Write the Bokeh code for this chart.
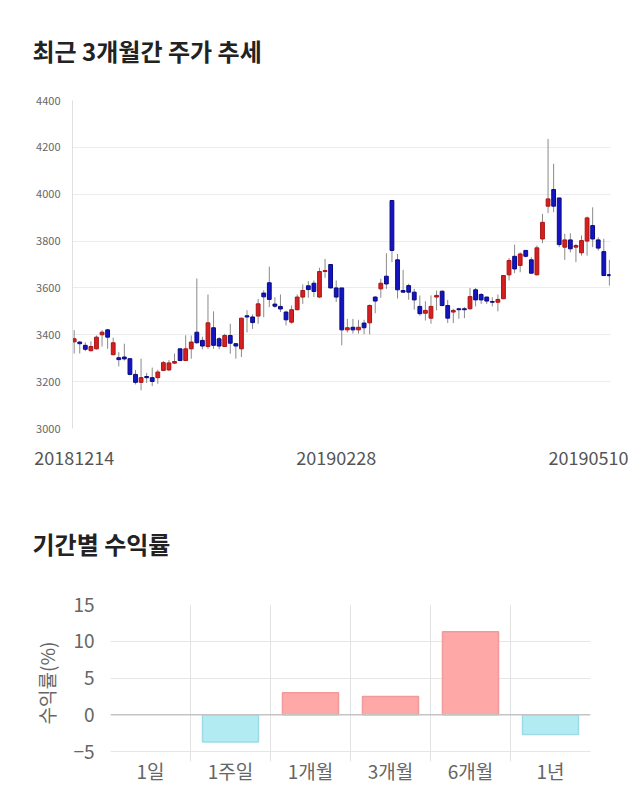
from bokeh.plotting import figure
from bokeh.models import Range1d, FixedTicker, Span, ColumnDataSource
from bokeh.embed import file_html
from bokeh.resources import INLINE

# ---- data: daily candles (3 months) ----
opens = [3370, 3369, 3355, 3332, 3340, 3400, 3421, 3315, 3302, 3305,
         3298, 3231, 3197, 3222, 3217, 3217, 3248, 3250, 3279, 3340,
         3290, 3340, 3411, 3376, 3350, 3430, 3383, 3350, 3397, 3362,
         3340, 3481, 3476, 3480, 3578, 3622, 3531, 3521, 3497, 3454,
         3507, 3561, 3609, 3620, 3561, 3670, 3700, 3600, 3600, 3421,
         3432, 3421, 3450, 3451, 3561, 3596, 3650, 3973, 3720, 3589,
         3610, 3582, 3521, 3492, 3471, 3561, 3586, 3525, 3497, 3511,
         3511, 3511, 3592, 3572, 3561, 3542, 3539, 3554, 3656, 3735,
         3696, 3760, 3720, 3656, 3809, 3949, 4020, 3984, 3774, 3805,
         3774, 3750, 3800, 3866, 3805, 3755, 3657]
highs = [3420, 3373, 3368, 3372, 3397, 3420, 3425, 3388, 3326, 3362,
         3300, 3250, 3298, 3237, 3260, 3251, 3288, 3292, 3320, 3342,
         3398, 3397, 3640, 3392, 3572, 3500, 3390, 3404, 3447, 3365,
         3472, 3505, 3487, 3553, 3590, 3691, 3560, 3572, 3503, 3525,
         3572, 3615, 3629, 3632, 3686, 3724, 3702, 3632, 3600, 3468,
         3468, 3464, 3464, 3530, 3565, 3639, 3748, 3975, 3745, 3677,
         3618, 3596, 3568, 3543, 3568, 3589, 3589, 3549, 3511, 3515,
         3518, 3600, 3600, 3578, 3563, 3560, 3572, 3655, 3728, 3785,
         3752, 3762, 3731, 3781, 3916, 4236, 4130, 3985, 3831, 3833,
         3788, 3824, 3905, 3944, 3816, 3810, 3720]
lows = [3320, 3320, 3330, 3329, 3337, 3350, 3340, 3312, 3265, 3290,
        3227, 3188, 3163, 3194, 3181, 3191, 3245, 3245, 3275, 3289,
        3288, 3298, 3362, 3338, 3340, 3340, 3338, 3347, 3319, 3298,
        3305, 3410, 3425, 3447, 3475, 3518, 3515, 3497, 3440, 3447,
        3504, 3532, 3558, 3561, 3558, 3643, 3598, 3540, 3355, 3410,
        3405, 3405, 3402, 3402, 3492, 3558, 3596, 3710, 3555, 3580,
        3550, 3507, 3482, 3461, 3447, 3504, 3521, 3450, 3450, 3468,
        3471, 3507, 3521, 3532, 3532, 3521, 3500, 3552, 3632, 3663,
        3667, 3730, 3660, 3653, 3791, 3919, 3923, 3774, 3720, 3752,
        3710, 3738, 3738, 3774, 3760, 3650, 3610]
closes = [3383, 3362, 3338, 3350, 3390, 3411, 3390, 3366, 3294, 3297,
          3231, 3197, 3217, 3217, 3201, 3241, 3281, 3280, 3286, 3290,
          3340, 3369, 3366, 3352, 3451, 3355, 3352, 3397, 3364, 3352,
          3471, 3476, 3452, 3532, 3562, 3551, 3522, 3510, 3464, 3507,
          3561, 3589, 3593, 3585, 3670, 3674, 3600, 3561, 3421, 3430,
          3421, 3432, 3430, 3525, 3544, 3620, 3617, 3760, 3592, 3582,
          3582, 3549, 3490, 3504, 3521, 3568, 3525, 3471, 3504, 3507,
          3507, 3563, 3549, 3549, 3544, 3539, 3551, 3653, 3717, 3681,
          3745, 3735, 3663, 3771, 3880, 3980, 3949, 3785, 3805, 3767,
          3781, 3802, 3899, 3809, 3770, 3653, 3652]
date_tick_labels = ["20181214", "20190228", "20190510"]
date_tick_index = [0, 47, len(opens) - 1]
price_ticks = [3000, 3200, 3400, 3600, 3800, 4000, 4200, 4400]

# ---- data: period returns ----
periods = ["1일", "1주일", "1개월", "3개월", "6개월", "1년"]
returns = [0.0, -3.7, 3.0, 2.5, 11.3, -2.7]
return_ticks = [-5, 0, 5, 10, 15]

FONT = "Noto Sans CJK KR"
UP_FILL, UP_LINE = "#d61f1f", "#a81515"
DN_FILL, DN_LINE = "#1414c4", "#0a0a80"

# ---------------- top: candlestick ----------------
n = len(opens)
idx = list(range(n))
src = ColumnDataSource(dict(
    x=idx, high=highs, low=lows,
    top=[max(o, c) for o, c in zip(opens, closes)],
    bottom=[min(o, c) for o, c in zip(opens, closes)],
    fill=[UP_FILL if c >= o else DN_FILL for o, c in zip(opens, closes)],
    line=[UP_LINE if c >= o else DN_LINE for o, c in zip(opens, closes)],
))

p1 = figure(width=640, height=482, output_backend="svg", toolbar_location=None,
            x_range=Range1d(-0.3, n - 0.8), y_range=Range1d(price_ticks[0], price_ticks[-1]),
            min_border_left=72, min_border_right=30, min_border_top=100, min_border_bottom=54,
            title="최근 3개월간 주가 추세")
p1.title.text_font = FONT
p1.title.text_font_size = "24px"
p1.title.text_font_style = "bold"
p1.title.text_color = "#222222"
p1.title.align = "left"
p1.title.vertical_align = "middle"
p1.title.offset = -40
p1.title.standoff = 63
p1.outline_line_color = None
p1.background_fill_color = "white"

p1.segment(x0="x", x1="x", y0="low", y1="high", source=src, line_color="#8a8a8a", line_width=1)
p1.vbar(x="x", top="top", bottom="bottom", width=0.68, source=src,
        fill_color="fill", line_color="line", line_width=1)

p1.yaxis.ticker = FixedTicker(ticks=price_ticks)
p1.yaxis.axis_line_color = "#e0e0e0"
p1.yaxis.major_tick_line_color = None
p1.yaxis.minor_tick_line_color = None
p1.yaxis.major_label_text_font = FONT
p1.yaxis.major_label_text_font_size = "11px"
p1.yaxis.major_label_text_color = "#666666"
p1.yaxis.major_label_standoff = 6

# last date label is kept inside the canvas (right-clamped) with trailing no-break spaces
pad = "\u00a0" * 3
p1.xaxis.ticker = FixedTicker(ticks=date_tick_index)
p1.xaxis.major_label_overrides = {
    i: (s + pad if i == date_tick_index[-1] else s)
    for i, s in zip(date_tick_index, date_tick_labels)
}
p1.xaxis.axis_line_color = None
p1.xaxis.major_tick_line_color = None
p1.xaxis.minor_tick_line_color = None
p1.xaxis.major_label_text_font = FONT
p1.xaxis.major_label_text_font_size = "18px"
p1.xaxis.major_label_text_color = "#555555"
p1.xaxis.major_label_standoff = 9

p1.xgrid.grid_line_color = None
p1.ygrid.grid_line_color = "#ececec"
p1.ygrid.ticker = FixedTicker(ticks=price_ticks)

# ---------------- bottom: returns bar ----------------
bx = [i + 0.5 for i in range(len(periods))]
bsrc = ColumnDataSource(dict(
    x=bx, r=returns,
    fill=["#ffa8a8" if v >= 0 else "#b2ebf2" for v in returns],
    line=["#f29a9a" if v >= 0 else "#9fdbe6" for v in returns],
    la=[0.0 if v == 0 else 1.0 for v in returns],
))
p2 = figure(width=640, height=328, output_backend="svg", toolbar_location=None,
            x_range=Range1d(0, len(periods)), y_range=Range1d(-6.36, 15),
            min_border_left=110, min_border_right=50, min_border_top=122, min_border_bottom=49,
            title="기간별 수익률")
p2.title.text_font = FONT
p2.title.text_font_size = "24px"
p2.title.text_font_style = "bold"
p2.title.text_color = "#222222"
p2.title.align = "left"
p2.title.vertical_align = "middle"
p2.title.offset = -78
p2.title.standoff = 85
p2.outline_line_color = None

p2.vbar(x="x", top="r", bottom=0, width=0.7, source=bsrc,
        fill_color="fill", line_color="line", line_alpha="la", line_width=1.5)
p2.add_layout(Span(location=0, dimension="width", line_color="#c4c4c4", line_width=1.5))

p2.yaxis.ticker = FixedTicker(ticks=return_ticks)
p2.yaxis.axis_line_color = None
p2.yaxis.major_tick_line_color = None
p2.yaxis.minor_tick_line_color = None
p2.yaxis.major_label_text_font = FONT
p2.yaxis.major_label_text_font_size = "19px"
p2.yaxis.major_label_text_color = "#666666"
p2.yaxis.major_label_standoff = 10
p2.yaxis.axis_label = "수익률(%)"
p2.yaxis.axis_label_text_font = FONT
p2.yaxis.axis_label_text_font_size = "19px"
p2.yaxis.axis_label_text_font_style = "normal"
p2.yaxis.axis_label_text_color = "#666666"
p2.yaxis.axis_label_standoff = 10

p2.xaxis.ticker = FixedTicker(ticks=bx)
p2.xaxis.major_label_overrides = {x: s for x, s in zip(bx, periods)}
p2.xaxis.axis_line_color = None
p2.xaxis.major_tick_line_color = None
p2.xaxis.minor_tick_line_color = None
p2.xaxis.major_tick_out = 0
p2.xaxis.major_label_text_font = FONT
p2.xaxis.major_label_text_font_size = "19px"
p2.xaxis.major_label_text_color = "#666666"
p2.xaxis.major_label_standoff = -5

p2.ygrid.ticker = FixedTicker(ticks=return_ticks)
p2.ygrid.grid_line_color = "#e6e6e6"
p2.xgrid.ticker = FixedTicker(ticks=list(range(len(periods))))
p2.xgrid.grid_line_color = "#e2e2e2"

open("out.html", "w").write(file_html([p1, p2], INLINE))
